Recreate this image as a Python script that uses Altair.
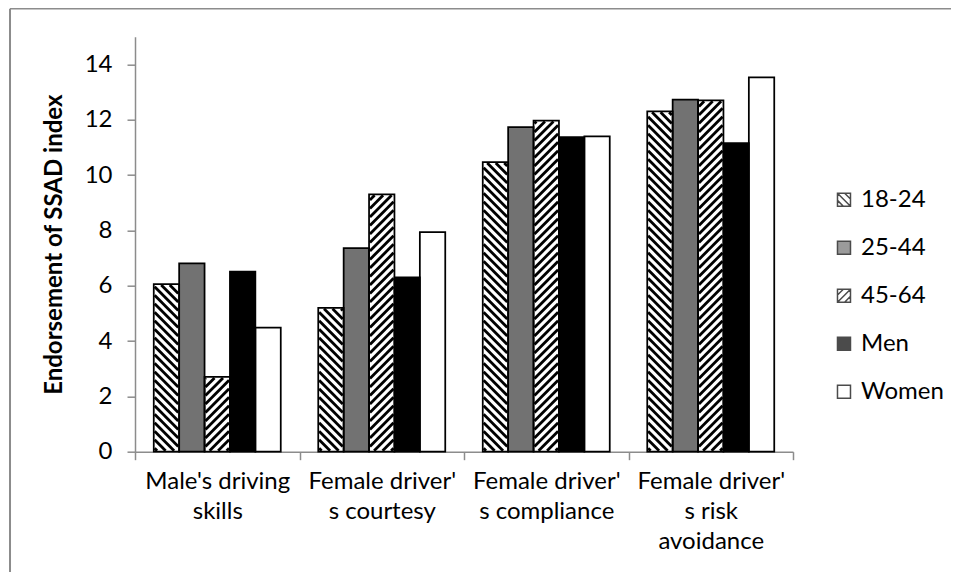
import json
import altair as alt
import pandas as pd

# ---------------- data ----------------
categories = ["Male's driving skills", "Female driver's courtesy",
              "Female driver's compliance", "Female driver's risk avoidance"]
category_labels = [["Male's driving", "skills"],
                   ["Female driver'", "s courtesy"],
                   ["Female driver'", "s compliance"],
                   ["Female driver'", "s risk", "avoidance"]]
series = ["18-24", "25-44", "45-64", "Men", "Women"]
v_18_24 = [6.06, 5.20, 10.47, 12.30]
v_25_44 = [6.81, 7.36, 11.73, 12.73]
v_45_64 = [2.70, 9.30, 11.97, 12.70]
v_men = [6.51, 6.30, 11.37, 11.15]
v_women = [4.48, 7.94, 11.40, 13.53]
y_ticks = [0, 2, 4, 6, 8, 10, 12, 14]

values = {"18-24": v_18_24, "25-44": v_25_44, "45-64": v_45_64,
          "Men": v_men, "Women": v_women}
rows = []
for gi, cat in enumerate(categories):
    for si, s in enumerate(series):
        rows.append({"category": cat, "g": gi, "series": s, "i": si,
                     "value": values[s][gi]})
df = pd.DataFrame(rows)

# ---------------- style / layout ----------------
FONT = "Lato"
FS = 24
GRAY = "#8c8c8c"
W, H = 658, 415
YMAX = 15
PX = W / 4.0
PY = H / YMAX
BAR_PX = 25.4
BW = BAR_PX / PX
X0 = 0.5 - 2.5 * BW
P = 8.5      # stripe period (px, along x)
E = 0.9      # stripe inset inside bar

fills = {"18-24": "#ffffff", "25-44": "#727272", "45-64": "#ffffff",
         "Men": "#000000", "Women": "#ffffff"}
fill_expr = " : ".join(f"datum.series == '{k}' ? '{v}'" for k, v in fills.items()) + " : '#ffffff'"

SQ = "M-1,-1H1V1H-1Z"
paths = [SQ + " M-1,-1L1,1 M0.1,-1L1,-0.1 M-1,0.1L-0.1,1",
         SQ,
         SQ + " M-1,1L1,-1 M0.1,1L1,0.1 M-1,-0.1L-0.1,-1",
         SQ, SQ]

label_expr = json.dumps(category_labels) + "[datum.value] || ''"

x_axis = alt.Axis(values=[0, 1, 2, 3, 4], title=None, grid=False,
                  tickSize=8, tickColor=GRAY, tickWidth=1.5,
                  domainColor=GRAY, domainWidth=1.5,
                  labelExpr=label_expr, labelOffset=W / 8.0,
                  labelPadding=10, labelFont=FONT, labelFontSize=FS,
                  labelColor="black", labelLineHeight=30,
                  labelOverlap=False, labelBound=False, labelFlush=False,
                  labelAlign="center", labelBaseline="top")
y_axis = alt.Axis(values=y_ticks, title="Endorsement of SSAD index", grid=False,
                  tickSize=8, tickColor=GRAY, tickWidth=1.5,
                  domainColor=GRAY, domainWidth=1.5,
                  labelFont=FONT, labelFontSize=FS, labelColor="black",
                  labelPadding=15,
                  titleFont=FONT, titleFontSize=FS, titleFontWeight="bold",
                  titleColor="black", titlePadding=18)
x_scale = alt.Scale(domain=[0, 4], nice=False, zero=False)
y_scale = alt.Scale(domain=[0, YMAX], nice=False)

base = alt.Chart(df)

bars_calc = base.transform_calculate(
    xl=f"datum.g + {X0} + datum.i * {BW}",
    xr=f"datum.g + {X0} + (datum.i + 1) * {BW}",
    col=fill_expr,
)

bars = bars_calc.mark_rect(strokeWidth=0).encode(
    x=alt.X("xl:Q", scale=x_scale, axis=x_axis),
    x2="xr:Q",
    y=alt.Y("value:Q", scale=y_scale, axis=y_axis),
    y2=alt.datum(0),
    fill=alt.Fill("col:N", scale=None),
)

outline = bars_calc.mark_rect(fillOpacity=0, stroke="black", strokeWidth=1.75).encode(
    x=alt.X("xl:Q", scale=x_scale, axis=x_axis),
    x2="xr:Q",
    y=alt.Y("value:Q", scale=y_scale, axis=y_axis),
    y2=alt.datum(0),
)

stripes = base.transform_filter(
    "datum.series == '18-24' || datum.series == '45-64'"
).transform_calculate(
    dir="datum.series == '45-64' ? 1 : -1",
    xl=f"datum.g + {X0} + datum.i * {BW}",
    h=f"datum.value * {PY}",
).transform_calculate(
    k=f"sequence(0, ceil(({BAR_PX} + datum.h) / {P}) + 1)"
).transform_flatten(["k"]).transform_calculate(
    c=f"datum.dir == 1 ? (-{BAR_PX} + (datum.k + 0.5) * {P}) : ((datum.k + 0.5) * {P})"
).transform_calculate(
    u1=f"datum.dir == 1 ? max({E}, {E} - datum.c) : max({E}, datum.c - datum.h + {E})",
    u2=f"datum.dir == 1 ? min({BAR_PX - E}, datum.h - {E} - datum.c) : min({BAR_PX - E}, datum.c - {E})",
).transform_filter("datum.u2 > datum.u1 + 0.2").transform_calculate(
    sx=f"datum.xl + datum.u1 / {PX}",
    sx2=f"datum.xl + datum.u2 / {PX}",
    sy=f"(datum.dir == 1 ? datum.u1 + datum.c : datum.c - datum.u1) / {PY}",
    sy2=f"(datum.dir == 1 ? datum.u2 + datum.c : datum.c - datum.u2) / {PY}",
).mark_rule(color="black", strokeWidth=2.8, strokeCap="butt").encode(
    x=alt.X("sx:Q", scale=x_scale, axis=x_axis),
    x2="sx2:Q",
    y=alt.Y("sy:Q", scale=y_scale, axis=y_axis),
    y2="sy2:Q",
)

legend = alt.Legend(title=None, orient="none", legendX=697, legendY=151,
                    direction="vertical", padding=0,
                    symbolSize=169, symbolStrokeWidth=1.5, symbolStrokeColor="black",
                    labelFont=FONT, labelFontSize=FS, labelColor="black",
                    labelOffset=5, rowPadding=24)

legend_layer = base.transform_filter("false").mark_point(
    filled=True, stroke="black", strokeWidth=1.5
).encode(
    fill=alt.Fill("series:N", scale=alt.Scale(domain=series, range=[fills[s] for s in series]),
                  legend=legend),
    shape=alt.Shape("series:N", scale=alt.Scale(domain=series, range=paths), legend=legend),
)

# chart-area frame (top & left edges visible in the reference)
frame_top = alt.Chart(pd.DataFrame({"a": [0]})).mark_rule(color=GRAY, strokeWidth=1.5).encode(
    x=alt.value(-125), x2=alt.value(W + 200), y=alt.value(-28))
frame_left = alt.Chart(pd.DataFrame({"a": [0]})).mark_rule(color=GRAY, strokeWidth=2).encode(
    x=alt.value(-125), y=alt.value(-28), y2=alt.value(H + 200))

chart = alt.layer(frame_top, frame_left, bars, stripes, outline, legend_layer).properties(
    width=W, height=H,
    padding={"left": 127, "top": 28.7, "right": 158, "bottom": 120},
    autosize=alt.AutoSizeParams(type="none"),
    background="white",
).configure_view(stroke=None)

chart.save("out.html", embed_options={"renderer": "svg", "actions": False})
